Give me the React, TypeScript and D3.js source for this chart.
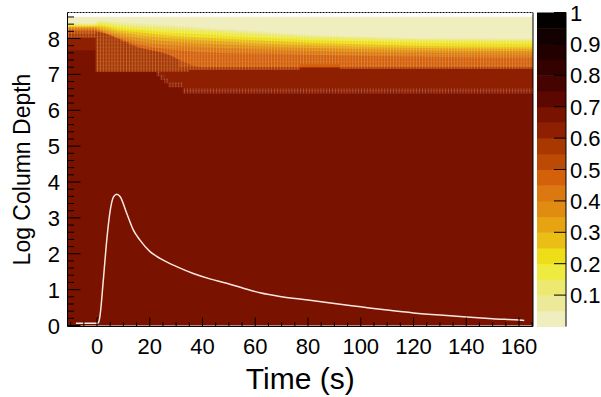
import React from "react";
import * as d3 from "d3";

// ---------- data ----------
const timeTicks = [0, 20, 40, 60, 80, 100, 120, 140, 160];
const depthTicks = [0, 1, 2, 3, 4, 5, 6, 7, 8];
const paletteTicks = [0.1, 0.2, 0.3, 0.4, 0.5, 0.6, 0.7, 0.8, 0.9, 1];
const paletteTickLabels = ["0.1", "0.2", "0.3", "0.4", "0.5", "0.6", "0.7", "0.8", "0.9", "1"];

// 20 contour colours, value bands 0-0.05 ... 0.95-1
const paletteColors = [
  "#f0eebe", "#ecea98", "#ece870", "#eeea40", "#eede18",
  "#eabe14", "#e6a412", "#e08c10", "#dc7810", "#d4600a",
  "#bc4a04", "#a83800", "#8e1f00", "#7a1200", "#5c0700",
  "#460400", "#330200", "#220000", "#130000", "#050000",
];

// Base value of the column-depth map (band 0.65-0.7)
const baseBand = 13;

// Stepped boundaries (depth above which the value drops below a level)
const b065Times = [-12, -0.5, 22.5, 24, 25.5, 27, 32.5, 166];
const b065Depth = [7.67, 7.07, 6.95, 6.85, 6.75, 6.64, 6.47, 6.47];
const b060Times = [-12, -0.5, 35, 77, 92, 166];
const b060Depth = [8.02, 7.07, 7.12, 7.28, 7.15, 7.15];
const b055Times = [-12, -0.5, 6.5, 9, 12, 15, 31, 166];
const b055Depth = [8.12, 8.18, 8.0, 7.9, 7.8, 7.73, 7.2, 7.2];

// Smooth boundaries of the upper gradient
const gradTimes = [-12, -1, 1, 8, 15, 25, 40, 60, 80, 100, 120, 140, 166];
const b050 = [8.2, 8.2, 8.18, 8.0, 7.78, 7.6, 7.2, 7.2, 7.2, 7.2, 7.2, 7.2, 7.2];
const b045 = [8.25, 8.25, 8.2, 8.02, 7.85, 7.72, 7.62, 7.58, 7.55, 7.52, 7.5, 7.48, 7.47];
const b040 = [8.28, 8.28, 8.23, 8.06, 7.93, 7.83, 7.76, 7.7, 7.66, 7.62, 7.6, 7.59, 7.58];
const b035 = [8.3, 8.3, 8.26, 8.12, 8.02, 7.93, 7.86, 7.79, 7.74, 7.7, 7.67, 7.66, 7.65];
const b030 = [8.32, 8.32, 8.3, 8.18, 8.1, 8.02, 7.95, 7.87, 7.81, 7.77, 7.74, 7.72, 7.71];
const b025 = [8.34, 8.34, 8.34, 8.24, 8.18, 8.1, 8.03, 7.95, 7.88, 7.84, 7.8, 7.78, 7.77];
const b020 = [8.36, 8.36, 8.38, 8.3, 8.25, 8.18, 8.12, 8.03, 7.96, 7.92, 7.88, 7.87, 7.86];
const b015 = [8.38, 8.38, 8.42, 8.36, 8.31, 8.26, 8.2, 8.1, 8.02, 7.98, 7.95, 7.94, 7.93];
const b010 = [8.4, 8.4, 8.46, 8.4, 8.36, 8.32, 8.25, 8.15, 8.06, 8.02, 7.98, 7.97, 7.96];
const b005 = [8.42, 8.42, 8.5, 8.45, 8.42, 8.38, 8.3, 8.2, 8.1, 8.05, 8.01, 8.0, 7.99];

// Light curve overlay (drawn in depth units)
const lcTime = [-8, 0, 0.5, 1.1, 2.4, 3.7, 5, 6.3, 7.5, 8.8, 11.3, 13.8, 16.3, 20.1, 23.9, 30.2, 36.5, 42.8, 49.2, 55.5, 61.8, 70, 80, 90, 100, 110, 120, 130, 140, 150, 160, 162];
const lcValue = [0.06, 0.06, 0.08, 0.25, 1.27, 2.38, 3.2, 3.59, 3.66, 3.59, 3.12, 2.66, 2.38, 2.06, 1.87, 1.64, 1.45, 1.3, 1.18, 1.04, 0.91, 0.8, 0.71, 0.61, 0.52, 0.43, 0.35, 0.29, 0.24, 0.19, 0.15, 0.14];

const xTitle = "Time (s)";
const yTitle = "Log Column Depth";

// ---------- layout ----------
const W = 601;
const H = 397;
const FL = 67.5, FR = 533, FT = 12.5, FB = 326.5;
const CB = { x0: 537, x1: 566 };
const FONT = "'Liberation Sans', Arial, Helvetica, sans-serif";

export default function App() {
  const x = d3.scaleLinear().domain([0, 160]).range([97, 519]);
  const y = d3.scaleLinear().domain([0, 8]).range([325.5, 38.5]);
  const z = d3.scaleLinear().domain([0, 1]).range([FB, FT]);

  const dTop = 8.6;
  const dBot = 0.0;

  const zip = (ts: number[], ds: number[]) => ts.map((t, i) => [t, ds[i]] as [number, number]);

  const stepArea = d3
    .area<[number, number]>()
    .x((d) => x(d[0]))
    .y0((d) => y(d[1]))
    .y1(() => y(dTop))
    .curve(d3.curveStepAfter);
  const smoothArea = d3
    .area<[number, number]>()
    .x((d) => x(d[0]))
    .y0((d) => y(d[1]))
    .y1(() => y(dTop))
    .curve(d3.curveMonotoneX);
  const stripArea = d3
    .area<[number, number]>()
    .x((d) => x(d[0]))
    .y0((d) => y(d[1]))
    .y1((d) => y(d[1] + 0.14))
    .curve(d3.curveStepAfter);

  const stepLevels = [
    { band: 12, pts: zip(b065Times, b065Depth) },
    { band: 11, pts: zip(b060Times, b060Depth) },
    { band: 10, pts: zip(b055Times, b055Depth) },
  ];
  const smoothLevels = [b050, b045, b040, b035, b030, b025, b020, b015, b010, b005].map((arr, i) => ({
    band: 9 - i,
    pts: zip(gradTimes, arr),
  }));

  const line = d3
    .line<[number, number]>()
    .x((d) => x(d[0]))
    .y((d) => y(d[1]))
    .curve(d3.curveMonotoneX);
  const lcPts = zip(lcTime, lcValue);

  const xMinor = d3.range(-10, 166, 5);
  const yMinor = d3.range(0, 8.71, 0.2);
  const cellPx = (x(1) - x(0)) * 1.1;

  return (
    <svg width={W} height={H} style={{ display: "block", position: "absolute", left: 0, top: 0 }} fontFamily={FONT}>
      <defs>
        <clipPath id="frameClip">
          <rect x={FL} y={FT} width={FR - FL} height={FB - FT} />
        </clipPath>
        <pattern id="cells" patternUnits="userSpaceOnUse" x={x(0)} y={0} width={cellPx} height={3.6}>
          <rect x={0} y={0} width={0.9} height={3.6} fill="#ffffff" fillOpacity={0.22} />
          <rect x={0} y={0} width={cellPx} height={0.6} fill="#ffffff" fillOpacity={0.1} />
        </pattern>
        <mask id="cellMask">
          <path d={stepArea(zip(b060Times, b060Depth)) || ""} fill="white" />
          <path d={smoothArea(zip(gradTimes, b005)) || ""} fill="black" />
          <path d={stripArea(zip(b065Times, b065Depth).filter((d) => d[0] > -1)) || ""} fill="white" />
        </mask>
      </defs>

      <rect x={0} y={0} width={W} height={H} fill="#ffffff" />

      <g clipPath="url(#frameClip)">
        <rect x={FL} y={y(dTop)} width={FR - FL} height={y(dBot) - y(dTop)} fill={paletteColors[baseBand]} />
        {stepLevels.map((l, i) => (
          <path key={"s" + i} d={stepArea(l.pts) || ""} fill={paletteColors[l.band]} />
        ))}
        {smoothLevels.map((l, i) => (
          <path key={"g" + i} d={smoothArea(l.pts) || ""} fill={paletteColors[l.band]} />
        ))}
        <rect x={FL} y={y(dTop)} width={FR - FL} height={y(dBot) - y(dTop)} fill="url(#cells)" mask="url(#cellMask)" />
        <path d={line(lcPts) || ""} fill="none" stroke="#fbe6e2" strokeWidth={1.5} />
      </g>

      {/* frame */}
      <line x1={FL} x2={FL} y1={FT} y2={FB} stroke="#000" strokeWidth={1} />
      <line x1={FL} x2={FR} y1={FB} y2={FB} stroke="#000" strokeWidth={1} />
      <line x1={FR} x2={FR} y1={FT} y2={FB} stroke="#000" strokeWidth={1} />
      <line x1={FL} x2={FR} y1={FT} y2={FT} stroke="#000" strokeWidth={1} strokeDasharray="2,1" />

      {/* x ticks */}
      {xMinor.map((t) => (
        <line key={"xm" + t} x1={x(t)} x2={x(t)} y1={FB} y2={FB - (t % 20 === 0 ? 9 : 4.5)} stroke="#000" />
      ))}
      {timeTicks.map((t) => (
        <text key={"xl" + t} x={x(t)} y={354} fontSize={22} textAnchor="middle" fill="#000">
          {t}
        </text>
      ))}

      {/* y ticks */}
      {yMinor.map((d, i) => (
        <line key={"ym" + i} x1={FL} x2={FL + (i % 5 === 0 ? 13 : 6.5)} y1={y(d)} y2={y(d)} stroke="#000" />
      ))}
      {depthTicks.map((d) => (
        <text key={"yl" + d} x={60} y={y(d) + 8} fontSize={22} textAnchor="end" fill="#000">
          {d}
        </text>
      ))}

      {/* titles */}
      <text x={(FL + FR) / 2} y={389} fontSize={30} textAnchor="middle" fill="#000">
        {xTitle}
      </text>
      <text transform={`translate(30, ${(FT + FB) / 2}) rotate(-90)`} fontSize={23} textAnchor="middle" fill="#000">
        {yTitle}
      </text>

      {/* colour bar */}
      {paletteColors.map((c, i) => (
        <rect key={"cb" + i} x={CB.x0} y={z((i + 1) / 20)} width={CB.x1 - CB.x0} height={z(i / 20) - z((i + 1) / 20) + 0.5} fill={c} />
      ))}
      <line x1={CB.x1} x2={CB.x1} y1={FT} y2={FB} stroke="#000" />
      {paletteTicks.map((v, i) => (
        <g key={"zt" + i}>
          <line x1={CB.x1} x2={CB.x1 - 12} y1={z(v)} y2={z(v)} stroke="#000" />
          <text x={570} y={z(v) + 8} fontSize={22} fill="#000">
            {paletteTickLabels[i]}
          </text>
        </g>
      ))}
    </svg>
  );
}
